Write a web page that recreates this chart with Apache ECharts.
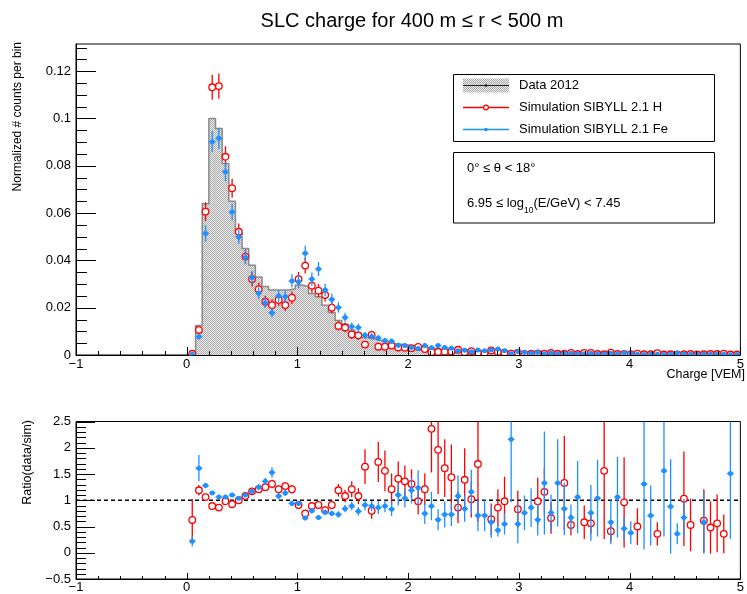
<!DOCTYPE html>
<html><head><meta charset="utf-8">
<script src="https://cdn.jsdelivr.net/npm/echarts@6/dist/echarts.min.js"></script>
<style>html,body{margin:0;padding:0;background:#fff}#c{width:747px;height:594px}</style>
</head><body><div id="c"></div>
<script>
// Histogram binning: 100 bins from -1 to 5 (values below start at bin index 17, centre 0.05)
const X_MIN = -1, X_MAX = 5, N_BINS = 100, FIRST_BIN = 17;

// Top panel: normalized counts per bin
const dataVals = [
  0.0003, 0.0125, 0.064, 0.100, 0.0958, 0.081, 0.065, 0.052, 0.045, 0.038,
  0.033, 0.029, 0.0275, 0.0275, 0.0275, 0.028, 0.0296, 0.0290, 0.026, 0.0246,
  0.021, 0.018, 0.0146, 0.013, 0.0106, 0.0091, 0.0074, 0.0068, 0.0061, 0.0054,
  0.0048, 0.0045, 0.0042, 0.0038, 0.0033, 0.0030, 0.0028, 0.0025, 0.0023, 0.0021,
  0.0019, 0.0017, 0.0016, 0.0015, 0.0013, 0.0012, 0.0011, 0.0010, 0.0010, 0.0008,
  0.0008, 0.0007, 0.0007, 0.0007, 0.0006, 0.0006, 0.0006, 0.0005, 0.0005, 0.0005,
  0.0005, 0.0004, 0.0004, 0.0004, 0.0004, 0.0004, 0.0003, 0.0003, 0.0003, 0.0003,
  0.0003, 0.0003, 0.0003, 0.0003, 0.0003, 0.0002, 0.0002, 0.0002, 0.0002, 0.0002,
  0.0002, 0.0002, 0.0002
];
const simH = [
  0.0005, 0.0106, 0.0606, 0.1132, 0.1137, 0.0838, 0.0705, 0.0521, 0.0416, 0.0321,
  0.0278, 0.0225, 0.0211, 0.0233, 0.0211, 0.0242, 0.0321, 0.0378, 0.0293, 0.0272,
  0.0254, 0.0200, 0.0123, 0.0116, 0.0087, 0.0083, 0.0044, 0.0085, 0.0035, 0.0035,
  0.0040, 0.0032, 0.0031, 0.0029, 0.0034, 0.0025, 0.0012, 0.0013, 0.0014, 0.0015,
  0.0022, 0.0012, 0.0016, 0.0009, 0.0008, 0.0019, 0.0013, 0.0010, 0.0006, 0.0010,
  0.0004, 0.0005, 0.0007, 0.0006, 0.0009, 0.0005, 0.0005, 0.0009, 0.0004, 0.0009,
  0.0009, 0.0004, 0.0003, 0.0010, 0.0004, 0.0004, 0.0003, 0.0006, 0.0003, 0.0003,
  0.0008, 0.0002, 0.0003, 0.0002, 0.0003, 0.0004, 0.0002, 0.0003, 0.0004, 0.0004,
  0.0006, 0.0002, 0.0002
];
const simHErr = [
  0.0006, 0.0015, 0.004, 0.0053, 0.0053, 0.0045, 0.004, 0.0035, 0.003, 0.003,
  0.0028, 0.0025, 0.0025, 0.0025, 0.0025, 0.0026, 0.003, 0.0033, 0.003, 0.0028,
  0.0028, 0.0025, 0.002, 0.002, 0.0018, 0.0018, 0.0013, 0.0018, 0.0012, 0.0012,
  0.0012, 0.0011, 0.0011, 0.001, 0.0011, 0.0009, 0.0007, 0.0007, 0.0007, 0.0008,
  0.0009, 0.0007, 0.0008, 0.0006, 0.0005, 0.0008, 0.0007, 0.0006, 0.0005, 0.0006,
  0.0004, 0.0004, 0.0005, 0.0005, 0.0006, 0.0004, 0.0004, 0.0006, 0.0004, 0.0006,
  0.0006, 0.0004, 0.0003, 0.0006, 0.0004, 0.0004, 0.0003, 0.0005, 0.0003, 0.0003,
  0.0005, 0.0003, 0.0003, 0.0003, 0.0003, 0.0004, 0.0003, 0.0003, 0.0004, 0.0004,
  0.0005, 0.0003, 0.0003
];
const simFe = [
  0.0003, 0.0077, 0.0514, 0.0902, 0.0916, 0.0775, 0.0605, 0.0500, 0.0413, 0.0327,
  0.0261, 0.0221, 0.0179, 0.0249, 0.0247, 0.0313, 0.0310, 0.0430, 0.0321, 0.0364,
  0.0275, 0.0235, 0.0201, 0.0159, 0.0120, 0.0116, 0.0083, 0.0078, 0.0072, 0.0061,
  0.0058, 0.0041, 0.0040, 0.0032, 0.0027, 0.0040, 0.0031, 0.0040, 0.0032, 0.0029,
  0.0018, 0.0020, 0.0014, 0.0021, 0.0018, 0.0021, 0.0025, 0.0018, 0.0005, 0.0015,
  0.0011, 0.0008, 0.0011, 0.0005, 0.0008, 0.0005, 0.0007, 0.0007, 0.0005, 0.0005,
  0.0007, 0.0004, 0.0004, 0.0007, 0.0004, 0.0009, 0.0008, 0.0003, 0.0002, 0.0004,
  0.0003, 0.0002, 0.0003, 0.0008, 0.0004, 0.0003, 0.0003, 0.0003, 0.0003, 0.0003,
  0.0003, 0.0001, 0.0002
];
const simFeErr = [
  0.0004, 0.0012, 0.0035, 0.0045, 0.0045, 0.004, 0.0035, 0.003, 0.003, 0.0028,
  0.0025, 0.0022, 0.002, 0.0025, 0.0025, 0.0028, 0.0028, 0.0032, 0.0028, 0.003,
  0.0026, 0.0024, 0.0022, 0.002, 0.0017, 0.0017, 0.0014, 0.0014, 0.0013, 0.0012,
  0.0012, 0.001, 0.001, 0.0009, 0.0008, 0.001, 0.0009, 0.001, 0.0009, 0.0008,
  0.0007, 0.0007, 0.0006, 0.0007, 0.0007, 0.0007, 0.0008, 0.0007, 0.0004, 0.0006,
  0.0005, 0.0005, 0.0005, 0.0004, 0.0005, 0.0004, 0.0005, 0.0005, 0.0004, 0.0004,
  0.0005, 0.0004, 0.0004, 0.0005, 0.0004, 0.0005, 0.0005, 0.0003, 0.0003, 0.0004,
  0.0003, 0.0003, 0.0003, 0.0005, 0.0004, 0.0003, 0.0003, 0.0003, 0.0003, 0.0003,
  0.0003, 0.0002, 0.0003
];

// Bottom panel: ratio data/sim
const ratioH = [
  0.625, 1.19, 1.06, 0.89, 0.86, 0.98, 0.925, 1.0, 1.08, 1.17,
  1.21, 1.25, 1.31, 1.21, 1.27, 1.21, 0.91, 0.75, 0.89, 0.91,
  0.81, 0.91, 1.19, 1.08, 1.21, 1.08, 1.64, 0.8, 1.73, 1.56,
  1.21, 1.41, 1.36, 1.31, 0.98, 1.21, 2.36, 1.96, 1.61, 1.44,
  0.86, 1.39, 1.02, 1.69, null, 0.64, 0.86, 0.98, null, 0.83,
  null, null, 0.98, 1.16, 0.66, null, 1.33, 0.53, null, 0.58,
  0.56, null, 1.56, 0.41, null, 0.96, null, 0.5, null, null,
  0.36, null, null, null, 1.03, 0.53, null, 0.61, 0.48, 0.56,
  0.36, null, null
];
const ratioHErr = [
  0.4, 0.1, 0.04, 0.03, 0.03, 0.04, 0.04, 0.04, 0.05, 0.05,
  0.06, 0.07, 0.08, 0.07, 0.08, 0.08, 0.06, 0.05, 0.06, 0.06,
  0.07, 0.08, 0.12, 0.12, 0.15, 0.15, 0.33, 0.15, 0.38, 0.39,
  0.3, 0.33, 0.3, 0.28, 0.25, 0.3, 0.83, 0.84, 0.55, 0.62,
  0.3, 0.6, 0.35, 1.1, null, 0.3, 0.35, 0.47, null, 0.35,
  null, null, 0.45, 0.45, 0.3, null, 0.9, 0.2, null, 0.32,
  0.2, null, 1.3, 0.2, null, 0.86, null, 0.35, null, null,
  0.22, null, null, null, 0.9, 0.5, null, 0.6, 0.5, 0.55,
  0.37, null, null
];
const ratioFe = [
  0.22, 1.61, 1.28, 1.14, 1.06, 1.06, 1.1, 1.04, 1.1, 1.17,
  1.25, 1.36, 1.53, 1.08, 1.14, 0.94, 0.94, 0.66, 0.8, 0.67,
  0.77, 0.75, 0.73, 0.84, 0.89, 0.79, 0.91, 0.89, 0.86, 0.89,
  0.83, 1.1, 1.04, 1.19, 1.24, 0.75, 0.89, 0.63, 0.73, 0.73,
  1.08, 0.84, 1.16, 0.71, 0.71, 0.58, 0.43, 0.55, 2.16, 0.55,
  0.76, 0.86, 0.63, 1.33, 0.76, 1.33, 0.84, 0.67, 1.06, null,
  0.76, 1.04, null, 0.58, 1.06, 0.46, 0.38, null, 1.31, 0.71,
  null, 1.56, 0.88, 0.36, 0.67, null, null, 0.58, null, null,
  null, 1.51, null
];
const ratioFeErr = [
  0.1, 0.25, 0.05, 0.03, 0.03, 0.03, 0.04, 0.04, 0.04, 0.05,
  0.06, 0.07, 0.1, 0.06, 0.06, 0.05, 0.05, 0.04, 0.05, 0.04,
  0.05, 0.05, 0.06, 0.07, 0.08, 0.08, 0.1, 0.1, 0.12, 0.12,
  0.13, 0.2, 0.18, 0.25, 0.33, 0.2, 0.27, 0.2, 0.25, 0.22,
  0.39, 0.25, 0.42, 0.3, 0.3, 0.3, 0.12, 0.2, 1.2, 0.37,
  0.33, 0.37, 0.3, 0.98, 0.35, 0.83, 0.5, 0.25, 0.69, null,
  0.53, 0.73, null, 0.42, 0.77, 0.22, 0.22, null, 1.25, 0.57,
  null, 1.25, 0.9, 0.2, 0.36, null, null, 0.6, null, null,
  null, 1.25, null
];

// Axis tick values
const xMajorTicks = [-1, 0, 1, 2, 3, 4, 5];
const topYTicks = [0, 0.02, 0.04, 0.06, 0.08, 0.1, 0.12];
const ratioYTicks = [-0.5, 0, 0.5, 1, 1.5, 2, 2.5];
const TOP_Y_MAX = 0.1315;

const RED = '#ff0000', BLUE = '#1e90ff';
const FONT = 'Liberation Sans, Arial, sans-serif';

const binW = (X_MAX - X_MIN) / N_BINS;
const centers = dataVals.map((_, i) => X_MIN + binW * (FIRST_BIN + i + 0.5));

// minor tick positions (subdivisions of the major tick spacing)
function subdiv(lo, hi, step) { const out = []; for (let k = 0; lo + k * step <= hi + 1e-9; k++) out.push(+(lo + k * step).toFixed(6)); return out; }
const xMinorTicks = subdiv(X_MIN, X_MAX, 0.2);
const topYMinor = subdiv(0, TOP_Y_MAX, 0.005);
const ratioYMinor = subdiv(-0.5, 2.5, 0.1);

// pattern fill for the data histogram
const pc = document.createElement('canvas'); pc.width = 2; pc.height = 2;
const g = pc.getContext('2d');
g.fillStyle = '#ececec'; g.fillRect(0, 0, 2, 2);
g.fillStyle = '#ababab'; g.fillRect(0, 0, 1, 1); g.fillRect(1, 1, 1, 1);
const pattern = { image: pc, repeat: 'repeat' };

const histPts = [[X_MIN + binW * FIRST_BIN, 0]];
dataVals.forEach((v, i) => histPts.push([X_MIN + binW * (FIRST_BIN + i), v]));
const lastEdge = X_MIN + binW * (FIRST_BIN + dataVals.length);
histPts.push([lastEdge, dataVals[dataVals.length - 1]]);
histPts.push([lastEdge, 0]);

function pts(vals, errs) {
  const out = [];
  vals.forEach((v, i) => { if (v !== null) out.push([centers[i], v, errs[i]]); });
  return out;
}
function makeRender(color, open, rad) {
  return function (params, api) {
    const x = api.value(0), y = api.value(1), e = api.value(2);
    const c = api.coord([x, y]);
    const t = api.coord([x, y + e]), b = api.coord([x, y - e]);
    const l = api.coord([x - binW / 2, y]), r = api.coord([x + binW / 2, y]);
    return { type: 'group', children: [
      { type: 'line', shape: { x1: c[0], y1: t[1], x2: c[0], y2: b[1] }, style: { stroke: color, lineWidth: 1.3 } },
      { type: 'line', shape: { x1: l[0], y1: c[1], x2: r[0], y2: c[1] }, style: { stroke: color, lineWidth: 1.3 } },
      { type: 'circle', shape: { cx: c[0], cy: c[1], r: rad },
        style: open ? { fill: '#fff', stroke: color, lineWidth: 1.3 } : { fill: color } }
    ] };
  };
}
function errSeries(vals, errs, color, open, rad, xi, yi, z) {
  return { type: 'custom', xAxisIndex: xi, yAxisIndex: yi, clip: true, z: z,
    data: pts(vals, errs), encode: { x: 0, y: 1 },
    renderItem: makeRender(color, open, rad) };
}
// inward ROOT-style ticks, placed through the axes' own scales
function tickSeries(xi, yi, yMajor, yMinor, len) {
  return { type: 'custom', xAxisIndex: xi, yAxisIndex: yi, clip: false, z: 6, silent: true,
    data: [[0, 0]], encode: { x: 0, y: 1 },
    renderItem: function (params, api) {
      const cs = params.coordSys;
      const bottom = cs.y + cs.height, left = cs.x;
      const st = { stroke: '#000', lineWidth: 1 };
      const kids = [];
      const px = v => Math.round(api.coord([v, 0])[0]) + 0.5;
      const py = v => Math.round(api.coord([X_MIN, v])[1]) + 0.5;
      xMinorTicks.forEach(v => { const x = px(v); kids.push({ type: 'line', shape: { x1: x, y1: bottom, x2: x, y2: bottom - len.xMin }, style: st }); });
      xMajorTicks.forEach(v => { const x = px(v); kids.push({ type: 'line', shape: { x1: x, y1: bottom, x2: x, y2: bottom - len.xMaj }, style: st }); });
      yMinor.forEach(v => { const y = py(v); kids.push({ type: 'line', shape: { x1: left, y1: y, x2: left + len.yMin, y2: y }, style: st }); });
      yMajor.forEach(v => { const y = py(v); kids.push({ type: 'line', shape: { x1: left, y1: y, x2: left + len.yMaj, y2: y }, style: st }); });
      return { type: 'group', children: kids };
    } };
}
const minus = v => String(v).replace('-', '\u2212');

function xAxis(gi, margin) {
  return { type: 'value', gridIndex: gi, position: 'bottom', min: X_MIN, max: X_MAX, interval: 1,
    axisLine: { show: true, onZero: false, lineStyle: { color: '#000', width: 1 } },
    axisTick: { show: false }, minorTick: { show: false }, splitLine: { show: false },
    axisLabel: { margin: margin, formatter: minus, color: '#000', fontSize: 13, fontFamily: FONT } };
}

const chart = echarts.init(document.getElementById('c'));
chart.setOption({
  animation: false,
  backgroundColor: '#fff',
  grid: [
    { left: 76, top: 44, width: 671, height: 311, show: true, borderColor: '#000' },
    { left: 76, top: 421.5, width: 671, height: 159.5, show: true, borderColor: '#000' }
  ],
  xAxis: [ xAxis(0, 3), xAxis(1, 2) ],
  yAxis: [
    { type: 'value', gridIndex: 0, position: 'left', min: 0, max: TOP_Y_MAX, interval: topYTicks[1] - topYTicks[0],
      axisLine: { show: true, onZero: false, lineStyle: { color: '#000' } },
      axisTick: { show: false }, minorTick: { show: false }, splitLine: { show: false },
      axisLabel: { margin: 5, showMaxLabel: false, color: '#000', fontSize: 13, fontFamily: FONT,
        formatter: v => topYTicks.some(t => Math.abs(t - v) < 1e-9) ? String(+v.toFixed(2)) : '' } },
    { type: 'value', gridIndex: 1, position: 'left', min: ratioYTicks[0], max: ratioYTicks[ratioYTicks.length - 1], interval: 0.5,
      axisLine: { show: true, onZero: false, lineStyle: { color: '#000' } },
      axisTick: { show: false }, minorTick: { show: false }, splitLine: { show: false },
      axisLabel: { margin: 5, formatter: minus, color: '#000', fontSize: 13, fontFamily: FONT } }
  ],
  series: [
    { type: 'line', xAxisIndex: 0, yAxisIndex: 0, step: 'end', data: histPts, symbol: 'none', z: 1,
      lineStyle: { color: '#8a8a8a', width: 1.5 }, areaStyle: { color: pattern, opacity: 1 } },
    errSeries(simH, simHErr, RED, true, 3.3, 0, 0, 3),
    errSeries(simFe, simFeErr, BLUE, false, 2.5, 0, 0, 4),
    { type: 'line', xAxisIndex: 1, yAxisIndex: 1, data: [[X_MIN, 1], [X_MAX, 1]], symbol: 'none', z: 2,
      lineStyle: { color: '#000', width: 1.5, type: [4, 3] } },
    errSeries(ratioH, ratioHErr, RED, true, 3.3, 1, 1, 3),
    errSeries(ratioFe, ratioFeErr, BLUE, false, 2.5, 1, 1, 4),
    tickSeries(0, 0, topYTicks, topYMinor, { xMaj: 8, xMin: 4, yMaj: 20, yMin: 11 }),
    tickSeries(1, 1, ratioYTicks, ratioYMinor, { xMaj: 6, xMin: 3, yMaj: 19, yMin: 10 })
  ],
  graphic: [
    { type: 'text', x: 412, y: 21.5, z: 50, style: { text: 'SLC charge for 400 m \u2264 r < 500 m', align: 'center', verticalAlign: 'middle', fontSize: 20, fontFamily: FONT, fill: '#000' } },
    { type: 'text', x: 18, y: 42, rotation: Math.PI / 2, z: 50, style: { text: 'Normalized # counts per bin', align: 'right', verticalAlign: 'middle', fontSize: 12, fontFamily: FONT, fill: '#000' } },
    { type: 'text', x: 28, y: 420, rotation: Math.PI / 2, z: 50, style: { text: 'Ratio(data/sim)', align: 'right', verticalAlign: 'middle', fontSize: 12.5, fontFamily: FONT, fill: '#000' } },
    { type: 'text', x: 745, y: 375, z: 50, style: { text: 'Charge [VEM]', align: 'right', verticalAlign: 'middle', fontSize: 12.5, fontFamily: FONT, fill: '#000' } },
    // legend box
    { type: 'rect', z: 50, shape: { x: 453.5, y: 74.5, width: 261, height: 67 }, style: { fill: '#fff', stroke: '#000', lineWidth: 1 } },
    { type: 'rect', z: 51, shape: { x: 463, y: 78.5, width: 46, height: 14 }, style: { fill: pattern } },
    { type: 'line', z: 52, shape: { x1: 463, y1: 85.5, x2: 509, y2: 85.5 }, style: { stroke: '#222', lineWidth: 1 } },
    { type: 'circle', z: 52, shape: { cx: 486, cy: 85.5, r: 1.2 }, style: { fill: '#000' } },
    { type: 'text', x: 519, y: 85, z: 52, style: { text: 'Data 2012', align: 'left', verticalAlign: 'middle', fontSize: 13, fontFamily: FONT, fill: '#000' } },
    { type: 'line', z: 52, shape: { x1: 463, y1: 107.5, x2: 509, y2: 107.5 }, style: { stroke: RED, lineWidth: 1.3 } },
    { type: 'circle', z: 53, shape: { cx: 486, cy: 107.5, r: 2.4 }, style: { fill: '#fff', stroke: RED, lineWidth: 1.2 } },
    { type: 'text', x: 519, y: 107.5, z: 52, style: { text: 'Simulation SIBYLL 2.1 H', align: 'left', verticalAlign: 'middle', fontSize: 13, fontFamily: FONT, fill: '#000' } },
    { type: 'line', z: 52, shape: { x1: 463, y1: 129.5, x2: 509, y2: 129.5 }, style: { stroke: BLUE, lineWidth: 1.3 } },
    { type: 'circle', z: 53, shape: { cx: 486, cy: 129.5, r: 1.8 }, style: { fill: BLUE } },
    { type: 'text', x: 519, y: 129.5, z: 52, style: { text: 'Simulation SIBYLL 2.1 Fe', align: 'left', verticalAlign: 'middle', fontSize: 13, fontFamily: FONT, fill: '#000' } },
    // info box
    { type: 'rect', z: 50, shape: { x: 453.5, y: 152.5, width: 261, height: 70.5 }, style: { fill: '#fff', stroke: '#000', lineWidth: 1 } },
    { type: 'text', x: 467, y: 168, z: 52, style: { text: '0\u00b0 \u2264 \u03b8 < 18\u00b0', align: 'left', verticalAlign: 'middle', fontSize: 13, fontFamily: FONT, fill: '#000' } },
    { type: 'text', x: 467, y: 203, z: 52, style: { text: '{m|6.95 \u2264 log}{s|10}{m|(E/GeV) < 7.45}', align: 'left', verticalAlign: 'middle',
      rich: { m: { fontSize: 13, fontFamily: FONT, fill: '#000', lineHeight: 24 }, s: { fontSize: 8.5, fontFamily: FONT, fill: '#000', lineHeight: 9, verticalAlign: 'bottom' } } } }
  ]
});
</script></body></html>
